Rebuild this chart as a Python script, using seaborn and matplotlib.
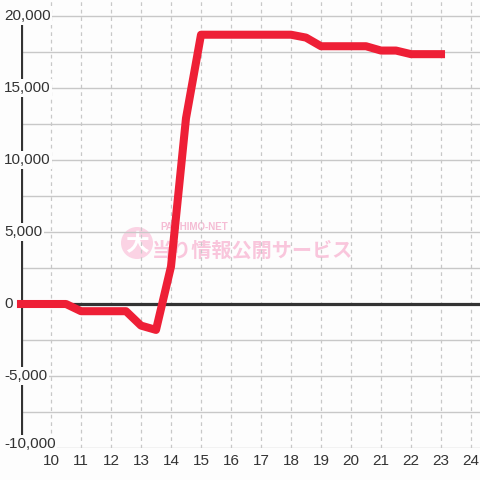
import matplotlib
matplotlib.use("Agg")
import matplotlib.pyplot as plt
import matplotlib.transforms as mtransforms
from matplotlib.patches import Circle
import seaborn as sns
import pandas as pd

# hourly (half-hour) balance readings
hours = [9, 9.5, 10, 10.5, 11, 11.5, 12, 12.5, 13, 13.5, 14, 14.5, 15, 15.5,
         16, 16.5, 17, 17.5, 18, 18.5, 19, 19.5, 20, 20.5, 21, 21.5, 22, 22.5, 23]
balance = [0, 0, 0, 0, -500, -500, -500, -500, -1500, -1800, 2600, 12900, 18700, 18700,
           18700, 18700, 18700, 18700, 18700, 18500, 17900, 17900, 17900, 17900, 17600, 17600, 17350, 17350, 17350]
x_ticks = list(range(10, 25))
y_ticks = [20000, 15000, 10000, 5000, 0, -5000, -10000]
y_grid = [20000, 17500, 15000, 12500, 10000, 7500, 5000, 2500, -2500, -5000, -7500, -10000]

df = pd.DataFrame({"hour": hours, "balance": balance})

bg = "#fdfdfd"
sns.set_style("white")
plt.rcParams["font.family"] = ["Liberation Sans", "DejaVu Sans"]

fig = plt.figure(figsize=(4.8, 4.8), dpi=100, facecolor=bg)
ax = fig.add_axes([21 / 480, 32 / 480, 459 / 480, 448 / 480], facecolor=bg)
ax.set_xlim(9, 24.3)
ax.set_ylim(-10000, 21111)
for s in ax.spines.values():
    s.set_visible(False)

# grid
for v in y_grid:
    ax.axhline(v, color="#c8c8c8", lw=1, zorder=1)
for h in x_ticks:
    ax.axvline(h, color="#c8c8c8", lw=0.9, ls=(0, (3, 3)), zorder=1)
ax.axhline(0, color="#333333", lw=2.3, zorder=2)
ax.plot([9, 9], [-10000, 20000], color="#333333", lw=2.3, zorder=2)

# watermark
pink = "#f9c6dc"
fig.patches.append(Circle((137 / 480, 1 - 243 / 480), 16 / 480, transform=fig.transFigure,
                          facecolor="#fbd3e4", edgecolor="none", zorder=0.5))
fig.text(137 / 480, 1 - 244 / 480, "大", color="white", fontsize=17, fontweight="bold",
         ha="center", va="center", family=["Noto Sans CJK JP", "DejaVu Sans"], zorder=0.6)
fig.text(160 / 480, 1 - 227 / 480, "PACHIMO-NET", color="#f5bcd4", fontsize=7,
         fontweight="bold", ha="left", va="center", zorder=0.6)
fig.text(152 / 480, 1 - 250 / 480, "当り情報公開サービス", color=pink, fontsize=14.5,
         fontweight="bold", ha="left", va="center",
         family=["Noto Sans CJK JP", "DejaVu Sans"], zorder=0.6)
ax.set_zorder(1)
ax.patch.set_alpha(0)
fig.patch.set_facecolor(bg)

sns.lineplot(data=df, x="hour", y="balance", ax=ax, color="#ee1f36", lw=5.8,
             solid_capstyle="projecting", solid_joinstyle="round", zorder=5, clip_on=False)

# x ticks
ax.set_xticks(x_ticks)
ax.set_xticklabels([str(h) for h in x_ticks], fontsize=11, color="#333333")
ax.tick_params(axis="x", length=0, pad=4)
ax.set_yticks([])
ax.set_xlabel("")
ax.set_ylabel("")

# y labels with background boxes over the axis line
trans = mtransforms.blended_transform_factory(fig.transFigure, ax.transData)
for v in y_ticks:
    ax.text(4 / 480, v, f"{v:,}", transform=trans, fontsize=11, color="#333333",
            ha="left", va="baseline" if v == -10000 else "center", zorder=4,
            bbox=dict(boxstyle="square,pad=0.12", facecolor=bg, edgecolor="none"))

fig.savefig("out.png", dpi=100, facecolor=bg)
